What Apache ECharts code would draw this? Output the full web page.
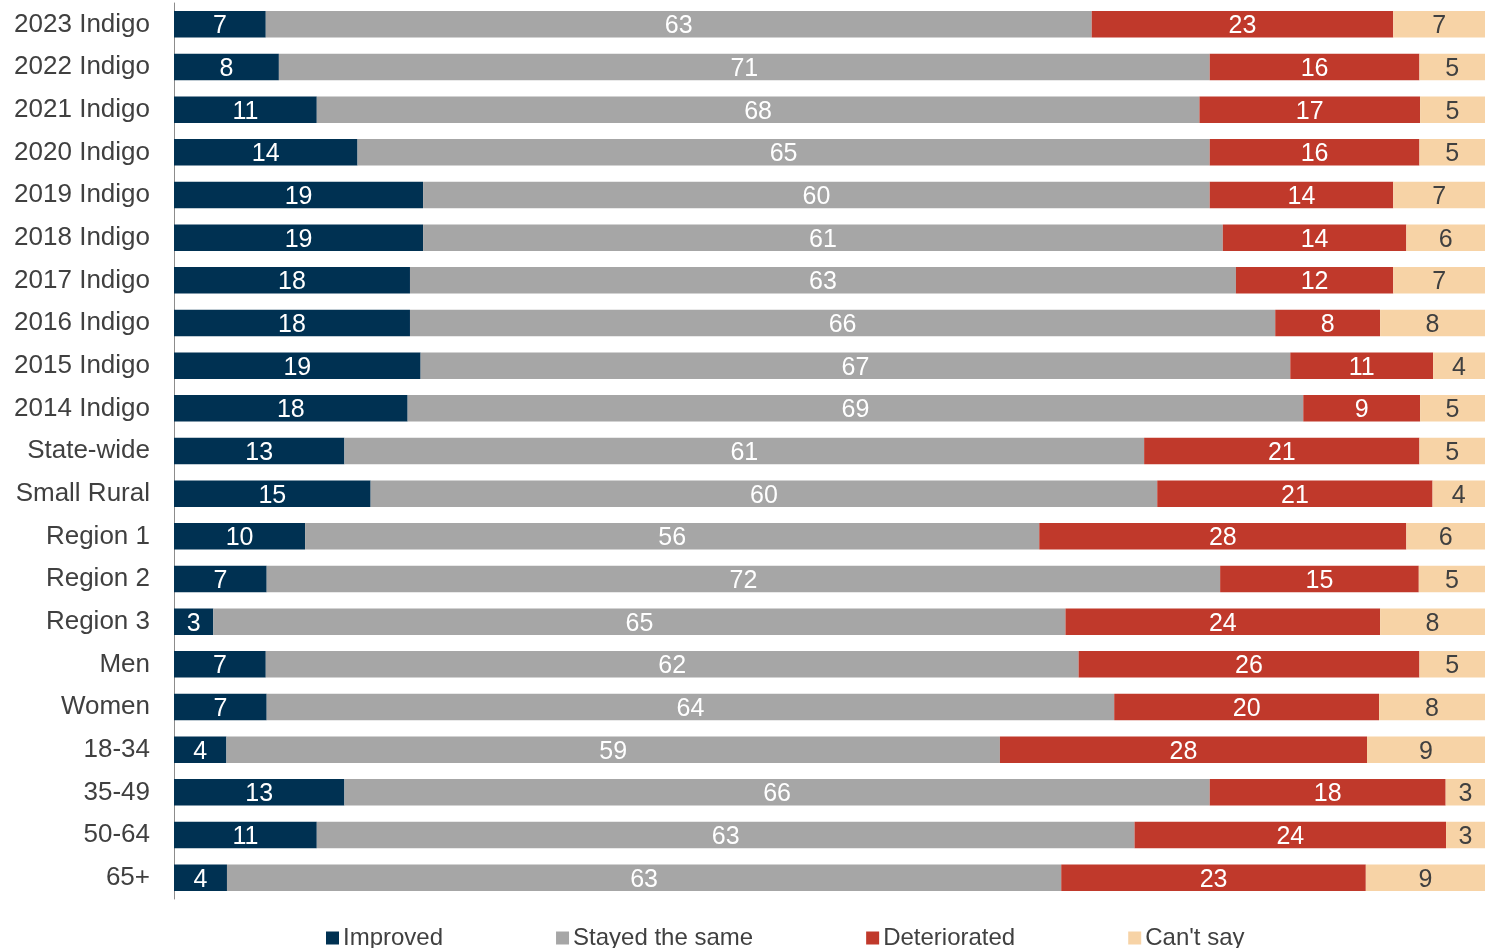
<!DOCTYPE html>
<html>
<head>
<meta charset="utf-8">
<script src="https://cdn.jsdelivr.net/npm/echarts@6/dist/echarts.min.js"></script>
<style>
  html, body { margin: 0; padding: 0; background: #fff; }
  #chart { width: 1493px; height: 948px; }
</style>
</head>
<body>
<div id="chart"></div>
<script>
const groups = ['2023 Indigo', '2022 Indigo', '2021 Indigo', '2020 Indigo', '2019 Indigo', '2018 Indigo',
  '2017 Indigo', '2016 Indigo', '2015 Indigo', '2014 Indigo', 'State-wide', 'Small Rural',
  'Region 1', 'Region 2', 'Region 3', 'Men', 'Women', '18-34', '35-49', '50-64', '65+']
const improved = [7, 8, 11, 14, 19, 19, 18, 18, 19, 18, 13, 15, 10, 7, 3, 7, 7, 4, 13, 11, 4]
const same = [63, 71, 68, 65, 60, 61, 63, 66, 67, 69, 61, 60, 56, 72, 65, 62, 64, 59, 66, 63, 63]
const worse = [23, 16, 17, 16, 14, 14, 12, 8, 11, 9, 21, 21, 28, 15, 24, 26, 20, 28, 18, 24, 23]
const cantSay = [7, 5, 5, 5, 7, 6, 7, 8, 4, 5, 5, 4, 6, 5, 8, 5, 8, 9, 3, 3, 9]

const seriesNames = ['Improved', 'Stayed the same', 'Deteriorated', "Can't say"]
const seriesValues = [improved, same, worse, cantSay]
const colors = ['#003152', '#a6a6a6', '#c0392b', '#f7d3a6']
const labelColors = ['#fff', '#fff', '#fff', '#404040']

// each bar is shown as share of its row total (labels keep the rounded values)
const totals = groups.map((g, i) => seriesValues.reduce((s, arr) => s + arr[i], 0))

const chart = echarts.init(document.getElementById('chart'))
const font = '"Liberation Sans", Arial, sans-serif'

const option = {
  animation: false,
  textStyle: { fontFamily: font },
  grid: { left: 174, right: 8, top: 3, height: 896, containLabel: false },
  legend: {
    left: 321,
    top: 921,
    itemWidth: 13,
    itemHeight: 13,
    itemGap: 113,
    icon: 'rect',
    textStyle: { fontSize: 24, color: '#404040', fontFamily: font, padding: [0, 0, 0, -1] },
    data: seriesNames
  },
  xAxis: {
    type: 'value',
    min: 0,
    max: 100,
    show: false
  },
  yAxis: {
    type: 'category',
    inverse: true,
    data: groups,
    axisLine: { show: true, lineStyle: { color: '#8c8c8c', width: 1 } },
    axisTick: { show: false },
    axisLabel: { fontSize: 26, color: '#404040', margin: 24, fontFamily: font }
  },
  series: seriesNames.map((name, k) => ({
    name: name,
    type: 'bar',
    stack: 'all',
    barWidth: '62%',
    itemStyle: { color: colors[k] },
    label: {
      show: true,
      position: 'inside',
      offset: [0, 2],
      fontSize: 25,
      color: labelColors[k],
      fontFamily: font,
      formatter: p => String(seriesValues[k][p.dataIndex])
    },
    data: seriesValues[k].map((v, i) => v / totals[i] * 100)
  }))
}

chart.setOption(option)
</script>
</body>
</html>
